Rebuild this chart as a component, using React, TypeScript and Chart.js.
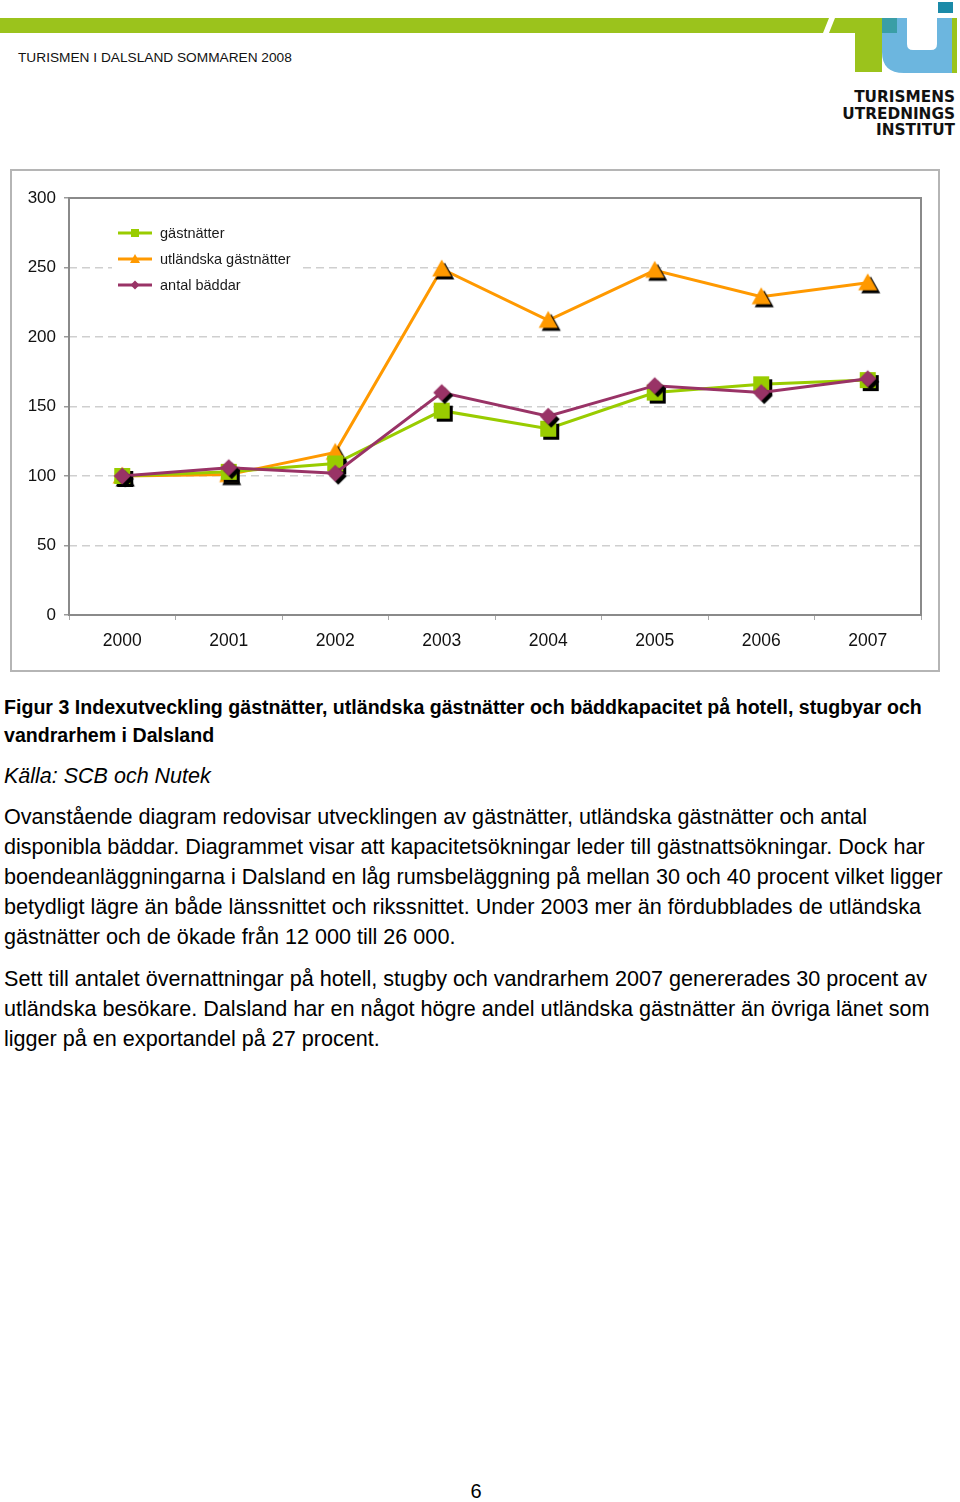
import React, { useEffect, useRef } from "react";
import { Chart, registerables } from "chart.js";

Chart.register(...registerables);

const years = ["2000", "2001", "2002", "2003", "2004", "2005", "2006", "2007"];
const gastnatter = [100, 103, 109, 147, 134, 160, 166, 169];
const utlandskaGastnatter = [100, 101, 117, 249, 212, 248, 229, 239];
const antalBaddar = [100, 106, 102, 160, 143, 165, 160, 170];
const seriesNames = ["gästnätter", "utländska gästnätter", "antal bäddar"];
const seriesColors = ["#99cc00", "#ff9900", "#993366"];
const seriesShapes = ["square", "triangle", "diamond"];
const yMin = 0;
const yMax = 300;
const yStep = 50;

const FONT = '"Liberation Sans", Arial, Helvetica, sans-serif';

const markerSizes: Record<string, number> = { square: 16, triangle: 19, diamond: 17 };
const legendMarkerSizes: Record<string, number> = { square: 8, triangle: 10, diamond: 9 };

function drawShape(ctx: CanvasRenderingContext2D, shape: string, cx: number, cy: number, size: number) {
  const h = size / 2;
  ctx.beginPath();
  if (shape === "square") {
    ctx.rect(cx - h, cy - h, size, size);
  } else if (shape === "triangle") {
    ctx.moveTo(cx, cy - h * 1.0);
    ctx.lineTo(cx + h, cy + h * 0.8);
    ctx.lineTo(cx - h, cy + h * 0.8);
    ctx.closePath();
  } else {
    ctx.moveTo(cx, cy - h);
    ctx.lineTo(cx + h, cy);
    ctx.lineTo(cx, cy + h);
    ctx.lineTo(cx - h, cy);
    ctx.closePath();
  }
  ctx.fill();
}

function makeMarker(shape: string, color: string, size: number, shadow: boolean) {
  const c = document.createElement("canvas");
  const dim = 32;
  c.width = dim;
  c.height = dim;
  const ctx = c.getContext("2d") as CanvasRenderingContext2D;
  const m = dim / 2;
  if (shadow) {
    ctx.fillStyle = "#000";
    drawShape(ctx, shape, m + 3, m + 3, size);
  }
  ctx.fillStyle = color;
  drawShape(ctx, shape, m, m, size);
  return c;
}

function ChartBox() {
  const ref = useRef<HTMLCanvasElement>(null);
  useEffect(() => {
    if (!ref.current) return;
    const values = [gastnatter, utlandskaGastnatter, antalBaddar];
    const orders = [1, 2, 0];
    const markers = seriesShapes.map((s, i) => makeMarker(s, seriesColors[i], markerSizes[s], true));
    const legendMarkers = seriesShapes.map((s, i) => makeMarker(s, seriesColors[i], legendMarkerSizes[s], false));

    const plotPlugin = {
      id: "plotDecor",
      beforeDatasetsDraw(chart: any) {
        const { ctx, chartArea: a } = chart;
        ctx.save();
        ctx.strokeStyle = "#8a8a8a";
        ctx.lineWidth = 2;
        ctx.strokeRect(a.left, a.top, a.right - a.left, a.bottom - a.top);
        ctx.restore();
      },
      afterDatasetsDraw(chart: any) {
        const { ctx, chartArea: a } = chart;
        ctx.save();
        ctx.fillStyle = "#ffffff";
        ctx.fillRect(a.left + 43, a.top + 20, 190, 80);
        const rows = [35, 61, 87];
        seriesNames.forEach((name, i) => {
          const y = a.top + rows[i];
          ctx.strokeStyle = seriesColors[i];
          ctx.lineWidth = 3;
          ctx.beginPath();
          ctx.moveTo(a.left + 49, y);
          ctx.lineTo(a.left + 83, y);
          ctx.stroke();
          const mk = legendMarkers[i];
          ctx.drawImage(mk, a.left + 66 - mk.width / 2, y - mk.height / 2);
          ctx.fillStyle = "#1a1a1a";
          ctx.font = `14.5px ${FONT}`;
          ctx.textBaseline = "middle";
          ctx.textAlign = "left";
          ctx.fillText(name, a.left + 91, y + 1);
        });
        ctx.restore();
      },
    };

    const chart = new Chart(ref.current, {
      type: "line",
      data: {
        labels: years,
        datasets: seriesNames.map((name, i) => ({
          label: name,
          data: values[i],
          borderColor: seriesColors[i],
          backgroundColor: seriesColors[i],
          borderWidth: 3,
          pointStyle: markers[i] as any,
          pointRadius: 8,
          pointHoverRadius: 8,
          tension: 0,
          fill: false,
          order: orders[i],
        })),
      },
      options: {
        responsive: false,
        animation: false,
        events: [],
        layout: { padding: { left: 0, right: 17, top: 27, bottom: 0 } },
        plugins: {
          legend: { display: false },
          tooltip: { enabled: false },
          title: { display: false },
        },
        scales: {
          x: {
            type: "category",
            offset: true,
            grid: {
              offset: true,
              drawOnChartArea: false,
              drawTicks: true,
              tickLength: 5,
              tickColor: "#a8a8a8",
              color: "#a8a8a8",
            },
            border: { display: false },
            ticks: {
              color: "#111",
              font: { family: FONT, size: 17.5 },
              padding: 11,
              maxRotation: 0,
              autoSkip: false,
            },
            afterFit(scale: any) {
              scale.height = 55;
            },
          },
          y: {
            min: yMin,
            max: yMax,
            ticks: {
              stepSize: yStep,
              color: "#111",
              font: { family: FONT, size: 17 },
              padding: 8,
            },
            grid: {
              color: "#cfcfcf",
              lineWidth: 1.5,
              tickLength: 5,
              tickColor: "#9a9a9a",
              tickWidth: 1.5,
              tickBorderDash: [],
            },
            border: { display: false, dash: [8, 5] },
            afterFit(scale: any) {
              scale.width = 57;
            },
          },
        },
      },
      plugins: [plotPlugin],
    } as any);
    return () => chart.destroy();
  }, []);
  return <canvas ref={ref} width={926} height={499} style={{ display: "block", width: 926, height: 499 }} />;
}

type LineSpec = { text: string; y: number };

const captionLines: LineSpec[] = [
  { text: "Figur 3 Indexutveckling gästnätter, utländska gästnätter och bäddkapacitet på hotell, stugbyar och", y: 707 },
  { text: "vandrarhem i Dalsland", y: 735 },
];
const sourceLine: LineSpec = { text: "Källa: SCB och Nutek", y: 776 };
const bodyLines: LineSpec[] = [
  { text: "Ovanstående diagram redovisar utvecklingen av gästnätter, utländska gästnätter och antal", y: 817 },
  { text: "disponibla bäddar. Diagrammet visar att kapacitetsökningar leder till gästnattsökningar. Dock har", y: 847 },
  { text: "boendeanläggningarna i Dalsland en låg rumsbeläggning på mellan 30 och 40 procent vilket ligger", y: 877 },
  { text: "betydligt lägre än både länssnittet och rikssnittet. Under 2003 mer än fördubblades de utländska", y: 907 },
  { text: "gästnätter och de ökade från 12 000 till 26 000.", y: 937 },
  { text: "Sett till antalet övernattningar på hotell, stugby och vandrarhem 2007 genererades 30 procent av", y: 979 },
  { text: "utländska besökare. Dalsland har en något högre andel utländska gästnätter än övriga länet som", y: 1009 },
  { text: "ligger på en exportandel på 27 procent.", y: 1039 },
];

function TextLine({ spec, size, weight, italic }: { spec: LineSpec; size: number; weight?: number; italic?: boolean }) {
  const lh = 30;
  return (
    <div
      style={{
        position: "absolute",
        left: 4,
        top: spec.y - lh / 2,
        height: lh,
        lineHeight: `${lh}px`,
        fontSize: size,
        fontWeight: weight || 400,
        fontStyle: italic ? "italic" : "normal",
        whiteSpace: "nowrap",
        color: "#000",
      }}
    >
      {spec.text}
    </div>
  );
}

function Header() {
  return (
    <>
      <svg width={960} height={80} style={{ position: "absolute", left: 0, top: 0 }}>
        <polygon points="0,18 829,18 823,33 0,33" fill="#9bc31c" />
        <polygon points="835,18 897,18 897,33 829,33" fill="#9bc31c" />
        <rect x={855} y={18} width={27} height={54} fill="#9bc31c" />
        <path d="M882,18 L907,18 L907,44 Q907,50 913,50 L931,50 Q937,50 937,44 L937,18 L953,18 L953,73 L904,73 Q882,73 882,52 Z" fill="#6cb6df" />
        <rect x={882} y={18} width={15} height={15} fill="#3a9ea6" />
        <rect x={952} y={18} width={5} height={55} fill="#9bc31c" />
        <rect x={938} y={2} width={15} height={11} fill="#1b8aa8" />
      </svg>
      <div
        style={{
          position: "absolute",
          left: 18,
          top: 50,
          fontSize: 13.7,
          lineHeight: "16px",
          whiteSpace: "nowrap",
          color: "#111",
        }}
      >
        TURISMEN I DALSLAND SOMMAREN 2008
      </div>
      <div
        style={{
          position: "absolute",
          right: 5,
          top: 89,
          textAlign: "right",
          fontFamily: '"DejaVu Sans", sans-serif',
          fontWeight: 700,
          fontSize: 15.3,
          lineHeight: "16.5px",
          color: "#111",
          whiteSpace: "nowrap",
        }}
      >
        <div>TURISMENS</div>
        <div>UTREDNINGS</div>
        <div>INSTITUT</div>
      </div>
    </>
  );
}

export default function App() {
  return (
    <div
      style={{
        position: "absolute",
        left: 0,
        top: 0,
        width: 960,
        height: 1502,
        background: "#fff",
        fontFamily: FONT,
        overflow: "hidden",
      }}
    >
      <Header />
      <div
        style={{
          position: "absolute",
          left: 10,
          top: 169,
          border: "2px solid #b5b5b5",
          width: 926,
          height: 499,
        }}
      >
        <ChartBox />
      </div>
      {captionLines.map((l, i) => (
        <TextLine key={"c" + i} spec={l} size={19.6} weight={700} />
      ))}
      <TextLine spec={sourceLine} size={21.5} italic />
      {bodyLines.map((l, i) => (
        <TextLine key={"b" + i} spec={l} size={21.6} />
      ))}
      <div
        style={{
          position: "absolute",
          left: 0,
          width: 952,
          top: 1478,
          textAlign: "center",
          fontSize: 20,
          lineHeight: "26px",
          color: "#000",
        }}
      >
        6
      </div>
    </div>
  );
}
